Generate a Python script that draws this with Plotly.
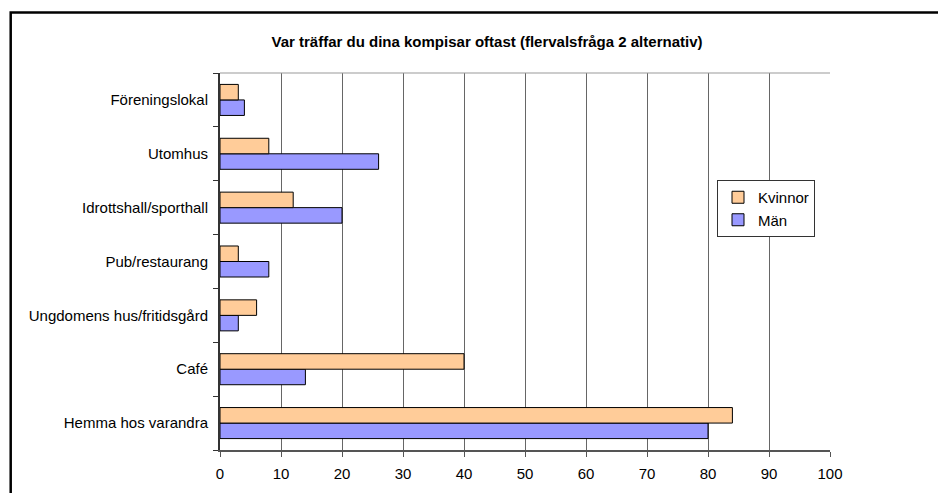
import plotly.graph_objects as go

categories = ["Hemma hos varandra", "Café", "Ungdomens hus/fritidsgård",
              "Pub/restaurang", "Idrottshall/sporthall", "Utomhus", "Föreningslokal"]
kvinnor = [84, 40, 6, 3, 12, 8, 3]
man = [80, 14, 3, 8, 20, 26, 4]
x_ticks = [0, 10, 20, 30, 40, 50, 60, 70, 80, 90, 100]

# page body has an 8px margin; work in screen pixels and convert
OFF = 8
W, H = 946 - OFF, 493 - OFF
L_SCR, R_SCR, T_SCR, B_SCR = 220, 830, 73, 450
ML, MT = L_SCR - OFF, T_SCR - OFF
MR, MB = W - (R_SCR - OFF), H - (B_SCR - OFF)
PW, PH = R_SCR - L_SCR, B_SCR - T_SCR

def px_x(sx):
    return (sx - L_SCR) / PW

def px_y(sy):
    return (B_SCR - sy) / PH

FONT = "Liberation Sans, Arial, sans-serif"

fig = go.Figure()
fig.add_trace(go.Bar(y=categories, x=man, name="Män", orientation="h",
                     marker=dict(color="#9999FF", line=dict(color="#000000", width=1))))
fig.add_trace(go.Bar(y=categories, x=kvinnor, name="Kvinnor", orientation="h",
                     marker=dict(color="#FFCC99", line=dict(color="#000000", width=1))))

fig.update_layout(
    width=W, height=H,
    margin=dict(l=ML, r=MR, t=MT, b=MB),
    paper_bgcolor="white", plot_bgcolor="white",
    font=dict(family=FONT, size=15, color="black"),
    barmode="group", bargap=0.424, bargroupgap=0,
    title=dict(text="<b>Var träffar du dina kompisar oftast (flervalsfråga 2 alternativ)</b>",
               x=px_x(487), xref="paper", xanchor="center",
               y=(H - (42 - OFF)) / H, yref="container", yanchor="middle",
               font=dict(family=FONT, size=15, color="black")),
    legend=dict(traceorder="reversed", x=px_x(717), y=px_y(180), xanchor="left", yanchor="top",
                bordercolor="#333333", borderwidth=1, bgcolor="white",
                font=dict(family=FONT, size=15), itemwidth=30,
                tracegroupgap=0),
    showlegend=True,
)

fig.update_xaxes(range=[0, 100], tickvals=x_ticks, ticktext=[str(v) for v in x_ticks],
                 showgrid=True, gridcolor="#666666", gridwidth=1,
                 showline=True, linecolor="#555555", linewidth=2,
                 ticks="outside", ticklen=5, tickcolor="#555555", tickwidth=1,
                 ticklabelstandoff=4, zeroline=False, fixedrange=True)
fig.update_yaxes(type="category", categoryorder="array", categoryarray=categories,
                 showgrid=False, showline=True, linecolor="#333333", linewidth=2,
                 ticks="outside", tickson="boundaries", ticklen=5, tickcolor="#333333",
                 ticklabelstandoff=7, zeroline=False, fixedrange=True)

# plot-area top border (light grey) and outer frame
fig.add_shape(type="line", xref="paper", yref="paper", x0=0, x1=1, y0=1, y1=1,
              line=dict(color="#999999", width=1))
fig.add_shape(type="rect", xref="paper", yref="paper",
              x0=px_x(10.7), x1=px_x(980), y0=px_y(540), y1=px_y(12.5),
              line=dict(color="black", width=2.5), fillcolor="rgba(0,0,0,0)", layer="above")

fig.write_html("out.html")
